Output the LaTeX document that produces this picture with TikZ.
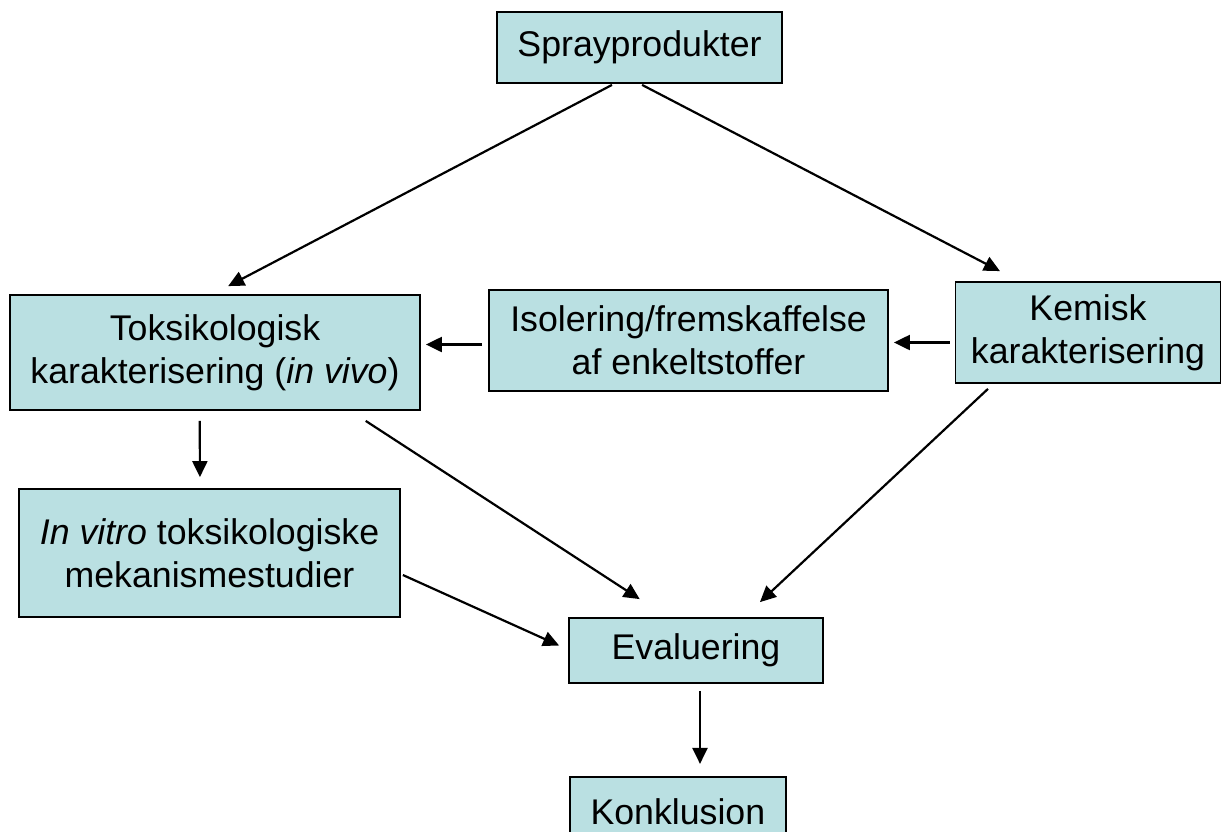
\documentclass[tikz,border=0pt]{standalone}
\usepackage{fontspec}
\setmainfont{Liberation Sans}
\usetikzlibrary{arrows.meta,calc}
\definecolor{boxfill}{HTML}{BAE0E2}
\begin{document}
\begin{tikzpicture}[x=1pt,y=-1pt,
  box/.style={draw=black,line width=1.8pt,fill=boxfill,inner sep=0pt,align=center,
    font=\fontsize{35.7}{43}\selectfont},
  arr/.style={line width=2.2pt,-{Triangle[length=16pt,width=15pt]}}]
\useasboundingbox (0,0) rectangle (1223,831);
\node[box,minimum width=285pt,minimum height=71pt] (spray) at (639.5,47.5) {Sprayprodukter};
\node[box,minimum width=410pt,minimum height=115pt] (tox) at (215,352.5) {Toksikologisk\\karakterisering (\textit{in vivo})};
\node[box,minimum width=399pt,minimum height=101pt] (iso) at (688.5,340.5) {Isolering/fremskaffelse\\af enkeltstoffer};
\node[box,minimum width=265pt,minimum height=101pt] (kem) at (1088,332.5) {Kemisk\\karakterisering};
\node[box,minimum width=381pt,minimum height=128pt] (vitro) at (209.5,553) {\textit{In vitro} toksikologiske\\mekanismestudier};
\node[box,minimum width=254pt,minimum height=65pt] (eval) at (696,650.5) {Evaluering};
\node[box,minimum width=216pt,minimum height=70pt,anchor=north west] (konk) at (569,776) {Konklusion};
\draw[arr] ($(spray.south west)!0.404!(spray.south east)+(0,1)$) -- ($(tox.north west)!0.532!(tox.north east)+(0,-8)$);
\draw[arr] ($(spray.south west)!0.509!(spray.south east)+(0,1)$) -- ($(kem.north west)!0.17!(kem.north east)+(0,-10)$);
\draw[arr] ($(kem.west)+(-5,10)$) -- ($(iso.east)+(5,2)$);
\draw[arr] ($(iso.west)+(-6,4)$) -- ($(tox.east)+(5,-8)$);
\draw[arr] ($(tox.south west)!0.463!(tox.south east)+(0,10)$) -- ($(vitro.north west)!0.475!(vitro.north east)+(0,-11)$);
\draw[arr] ($(tox.south west)!0.866!(tox.south east)+(0,10)$) -- ($(eval.north west)!0.28!(eval.north east)+(0,-18)$);
\draw[arr] ($(kem.south west)!0.125!(kem.south east)+(0,5)$) -- ($(eval.north west)!0.75!(eval.north east)+(0,-15)$);
\draw[arr] ($(vitro.east)+(2,22)$) -- ($(eval.west)+(-9,-5)$);
\draw[arr] ($(eval.south)+(4,7)$) -- ($(eval.south)+(4,80)$);
\end{tikzpicture}
\end{document}
